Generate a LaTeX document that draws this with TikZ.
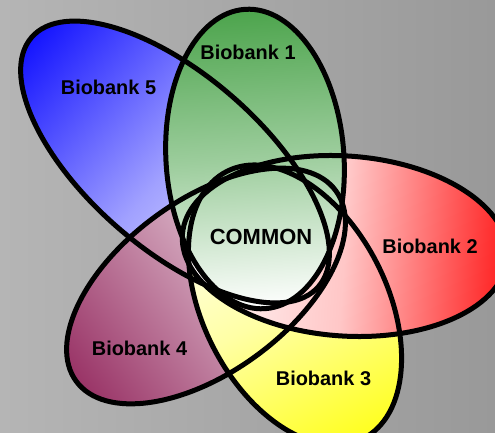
\documentclass[tikz,border=0pt]{standalone}
\usepackage{fontspec}
\setmainfont{Liberation Sans}
\definecolor{cgreen}{RGB}{76,164,76}
\definecolor{cred}{RGB}{255,30,30}
\definecolor{cyellow}{RGB}{255,255,30}
\definecolor{cpurple}{RGB}{153,51,102}
\definecolor{cblue}{RGB}{20,20,255}
% #1 cx, #2 cy, #3 page angle, #4 a, #5 b, #6 colour, #7 middle percent
\newcommand\petalfill[7]{%
  \begin{scope}[transform canvas={shift={(#1,#2)}, rotate=#3}]
    \shade[left color=white, right color=#6, middle color=#6!#7!white]
      (0,0) ellipse [x radius=#4, y radius=#5];
  \end{scope}}
\newcommand\petaledge[5]{%
  \begin{scope}[transform canvas={shift={(#1,#2)}, rotate=#3}]
    \draw[edge] (0,0) ellipse [x radius=#4, y radius=#5];
  \end{scope}}
\tikzset{
  edge/.style={line width=5bp, draw=black},
  lbl/.style={font=\bfseries\fontsize{20}{24}\selectfont, inner sep=0pt, anchor=base},
  lblbig/.style={font=\bfseries\fontsize{22}{26}\selectfont, inner sep=0pt, anchor=base}
}
\begin{document}
\begin{tikzpicture}[x=1bp,y=-1bp]
\useasboundingbox (0,0) rectangle (495,433);
\shade[left color=black!29, right color=black!40] (0,0) rectangle (495,433);
\begin{scope}
\clip (0,0) rectangle (495,433);
% fills, bottom to top
\petalfill{175}{162}{139}{190}{87}{cblue}{40}
\petalfill{206}{286}{-143.7}{161}{86}{cpurple}{50}
\petalfill{295}{305}{-63}{150}{92}{cyellow}{40}
\petalfill{345}{246}{-4}{163}{90}{cred}{25}
\petalfill{255}{159}{93.8}{150}{89}{cgreen}{55}
% outlines
\petaledge{175}{162}{139}{190}{87}
\petaledge{206}{286}{-143.7}{161}{86}
\petaledge{295}{305}{-63}{150}{92}
\petaledge{345}{246}{-4}{163}{90}
\petaledge{255}{159}{93.8}{150}{89}
\end{scope}
\node[lbl] (b1) at (248,60) {Biobank 1};
\node[lbl] (b5) at (108.5,95) {Biobank 5};
\node[lbl] (b2) at (430,253) {Biobank 2};
\node[lbl] (b3) at (323.5,385) {Biobank 3};
\node[lbl] (b4) at (139.5,355) {Biobank 4};
\node[lblbig] (common) at (261,245) {COMMON};
\end{tikzpicture}
\end{document}
